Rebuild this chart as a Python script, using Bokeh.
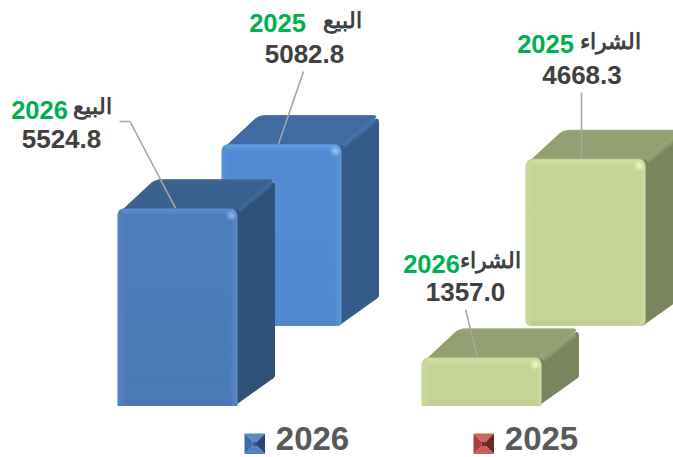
from bokeh.plotting import figure
from bokeh.models import Range1d
from bokeh.core.properties import value
from bokeh.embed import file_html
from bokeh.resources import INLINE
import math

# ---- data
series_years = ["2026", "2025", "2025", "2026"]
series_names = ["البيع", "البيع", "الشراء", "الشراء"]
series_values = [5524.8, 5082.8, 4668.3, 1357.0]
value_labels = ["5524.8", "5082.8", "4668.3", "1357.0"]
legend_years = ["2026", "2025"]

# ---- layout (pixels on the page)
W, H, M = 673, 457, 0
PX_PER_UNIT = 0.0358
BASE_FRONT, BASE_BACK = 405.5, 325.5
BW, DX, DY = 120, 37.5, 29
def v2y(px):            # page pixel row -> value axis coordinate
    return (BASE_FRONT - px) / PX_PER_UNIT

p = figure(width=W, height=H, output_backend="svg", toolbar_location=None,
           x_range=Range1d(M, M + W), y_range=Range1d(v2y(M + H), v2y(M)),
           min_border=0, outline_line_color=None, background_fill_color="white",
           border_fill_color="white")
p.axis.visible = False
p.grid.visible = False

def smooth(pts, radii):
    out = []
    n = len(pts)
    for i, (x, y) in enumerate(pts):
        r = radii[i]
        if r == 0:
            out.append((x, y))
            continue
        x0, y0 = pts[i - 1]
        x2, y2 = pts[(i + 1) % n]
        d0 = math.hypot(x0 - x, y0 - y)
        d2 = math.hypot(x2 - x, y2 - y)
        a = (x + (x0 - x) * r / d0, y + (y0 - y) * r / d0)
        b = (x + (x2 - x) * r / d2, y + (y2 - y) * r / d2)
        for k in range(7):
            t = k / 6
            out.append(((1 - t) ** 2 * a[0] + 2 * t * (1 - t) * x + t * t * b[0],
                        (1 - t) ** 2 * a[1] + 2 * t * (1 - t) * y + t * t * b[1]))
    return out

def poly(pts, color, alpha=1.0):
    p.patch([a for a, _ in pts], [v2y(b) for _, b in pts], fill_color=color,
            fill_alpha=alpha, line_color=None)

def bar3d(x0, base, val, c, rb):
    top = base - val * PX_PER_UNIT
    x1 = x0 + BW
    # silhouette of top face
    poly(smooth([(x0, top + 6), (x0 + DX, top - DY), (x1 + DX, top - DY), (x1, top + 6)],
                [0, 7, 7, 0]), c["top"])
    # side face
    poly(smooth([(x1 - 3, top + 3), (x1 + DX, top - DY + 1), (x1 + DX, base - DY), (x1 - 3, base)],
                [0, 7, 2, 0]), c["side"])
    # ridges (soft)
    for w, a in [(7, 0.22), (4, 0.3), (2, 0.35)]:
        p.line([x1 + 1, x1 + DX - 4], [v2y(top + 2), v2y(top - DY + 5)], line_color=c["ridge"],
               line_width=w, line_alpha=a)
    p.line([x0 + DX + 3, x1 + DX - 5], [v2y(top - DY + 0.7)] * 2, line_color=c["ridge"],
           line_width=1.2, line_alpha=0.6)
    # front face
    outline = smooth([(x0, top), (x1, top), (x1, base), (x0, base)], [8, 8, rb, rb])
    poly(outline, c["front"])
    # vertical shading of the front face
    n = 12
    for i in range(n):
        t = top + 7 + (base - top - 9) * i / n
        b = top + 7 + (base - top - 9) * (i + 1) / n
        poly([(x0 + 7, t), (x1 - 7, t), (x1 - 7, b), (x0 + 7, b)], c["front2"], 0.5 * (i + 1) / n)
    # soft bevels
    for k, a in enumerate([0.5, 0.42, 0.34, 0.26, 0.18, 0.1, 0.04]):
        inset = 1.5 + k * 0.5
        poly([(x0 + inset + 2, top + 1 + k), (x1 - inset - 2, top + 1 + k), (x1 - inset - 2, top + 2 + k),
              (x0 + inset + 2, top + 2 + k)], c["bevel"], a)
        poly([(x1 - 1 - k, top + 6), (x1 - k, top + 6), (x1 - k, base - 3),
              (x1 - 1 - k, base - 3)], c["bevel"], a * 0.7)
        poly([(x0 + k, top + 6), (x0 + 1 + k, top + 6), (x0 + 1 + k, base - 3),
              (x0 + k, base - 3)], c["bevel"], a * 0.5)
        poly([(x0 + 6, base - 2 - k), (x1 - 6, base - 2 - k), (x1 - 6, base - 1 - k),
              (x0 + 6, base - 1 - k)], c["shade"], a * 0.3)
    # bright corner
    for s, a in [(11, 0.25), (7, 0.45), (4, 0.6)]:
        p.scatter([x1 - 6], [v2y(top + 7)], size=s, marker="circle", fill_color=c["glint"],
                  fill_alpha=a, line_color=None)

BLUE_FRONT = dict(top="#3a6190", side="#2f5079", ridge="#4b78ad", front="#4d7dbb",
                  front2="#4978b0", bevel="#73a3e0", glint="#8fbcf0", shade="#3a6293")
BLUE_BACK = dict(top="#3f6ba2", side="#355b8b", ridge="#5080bc", front="#538cd4",
                 front2="#4f86ca", bevel="#7badea", glint="#9cc8f5", shade="#3f6ba5")
GREEN = dict(top="#929f73", side="#7a855d", ridge="#a3b17e", front="#c4d596",
             front2="#c2d394", bevel="#dcecb0", glint="#eff8cb", shade="#a2b27a")

# back row first, then front row
bar3d(221, BASE_BACK, series_values[1], BLUE_BACK, 5)
bar3d(525, BASE_BACK, series_values[2], GREEN, 6)
bar3d(117, BASE_FRONT, series_values[0], BLUE_FRONT, 1)
bar3d(421, BASE_FRONT, series_values[3], GREEN, 2)

# leader lines
tops = [BASE_FRONT - series_values[0] * PX_PER_UNIT, BASE_BACK - series_values[1] * PX_PER_UNIT,
        BASE_BACK - series_values[2] * PX_PER_UNIT, BASE_FRONT - series_values[3] * PX_PER_UNIT]
leaders = [([119, 129.5, 175], [121, 121, tops[0]]),
           ([303, 278], [71, tops[1]]),
           ([581, 581], [92, tops[2]]),
           ([465, 477], [309, tops[3]])]
for xs, ys in leaders:
    p.line(xs, [v2y(y) for y in ys], line_color="#a6a6a6", line_width=1.6)

def txt(x, y, s, color, size, align="center", font="Liberation Sans", baseline="middle"):
    p.text([x], [v2y(y)], text=[s], text_color=color, text_font=value(font),
           text_font_size=f"{size}px", text_font_style="bold",
           text_align=align, text_baseline=baseline)

DARK, GRN = "#404040", "#00b050"
FS_AR, FS_Y, FS_V = 21.5, 25.5, 26
txt(111, 106, series_names[0], DARK, FS_AR, "right")
txt(39, 109.5, series_years[0], GRN, FS_Y)
txt(61, 138, value_labels[0], DARK, FS_V)

txt(361, 20, series_names[1], DARK, FS_AR, "right")
txt(277, 22.5, series_years[1], GRN, FS_Y)
txt(304, 53, value_labels[1], DARK, FS_V)

txt(640, 41, series_names[2], DARK, FS_AR, "right")
txt(545, 43.5, series_years[2], GRN, FS_Y)
txt(581.5, 74, value_labels[2], DARK, FS_V)

txt(520.5, 260, series_names[3], DARK, FS_AR, "right")
txt(431, 263, series_years[3], GRN, FS_Y)
txt(465, 291, value_labels[3], DARK, FS_V)

# legend
def swatch(x, y, s, cols):
    xa, xb, ya, yb = x, x + s, y, y + s
    i = 8
    c = (xa + i, xb - i, ya + i, yb - i)
    poly([(xa, ya), (xb, ya), (c[1], c[2]), (c[0], c[2])], cols[0])
    poly([(xb, ya), (xb, yb), (c[1], c[3]), (c[1], c[2])], cols[1])
    poly([(xa, yb), (xb, yb), (c[1], c[3]), (c[0], c[3])], cols[2])
    poly([(xa, ya), (xa, yb), (c[0], c[3]), (c[0], c[2])], cols[3])
    poly([(c[0], c[2]), (c[1], c[2]), (c[1], c[3]), (c[0], c[3])], cols[4])

swatch(244, 433, 20.5, ["#5a8ac6", "#27476f", "#4f85c8", "#3b6ca8", "#2f5a8c"])
swatch(473, 433, 20.5, ["#cf6461", "#6e2826", "#c75f5c", "#a8403e", "#7d2f2d"])
txt(312, 438, legend_years[0], "#595959", 33)
txt(541, 438, legend_years[1], "#595959", 33)

open("out.html", "w").write(file_html(p, INLINE))
